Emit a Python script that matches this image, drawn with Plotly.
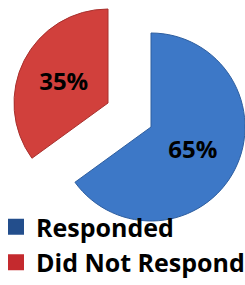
import plotly.graph_objects as go

labels = ["Responded", "Did Not Respond"]
values = [65, 35]
slice_colors = ["#3D78C7", "#D1403C"]
edge_colors = ["#2E5E9F", "#A8302D"]
legend_colors = ["#234E8C", "#C42A2E"]

W, H = 245, 285
font_family = "Open Sans"
transparent = "rgba(0,0,0,0)"

fig = go.Figure()

# Slice in place (Responded)
fig.add_trace(go.Pie(
    labels=labels, values=values, sort=False, direction="clockwise", rotation=0,
    marker=dict(colors=[slice_colors[0], transparent],
                line=dict(color=[edge_colors[0], transparent], width=1)),
    texttemplate=["%{percent:.0%}", ""], textposition="inside",
    insidetextorientation="horizontal",
    textfont=dict(family=font_family, size=24, color="black", weight="bold"),
    domain=dict(x=[57 / W, 1], y=[64 / H, 252 / H]),
    showlegend=False, hoverinfo="skip",
))

# Exploded slice (Did Not Respond)
fig.add_trace(go.Pie(
    labels=labels, values=values, sort=False, direction="clockwise", rotation=0,
    marker=dict(colors=[transparent, slice_colors[1]],
                line=dict(color=[transparent, edge_colors[1]], width=1)),
    texttemplate=["", "%{percent:.0%}"], textposition="inside",
    insidetextorientation="horizontal",
    textfont=dict(family=font_family, size=24, color="black", weight="bold"),
    domain=dict(x=[14 / W, 202 / W], y=[88 / H, 276 / H]),
    showlegend=False, hoverinfo="skip",
))

# Legend entries
for lab, col in zip(labels, legend_colors):
    fig.add_trace(go.Scatter(
        x=[None], y=[None], mode="markers", name=lab,
        marker=dict(symbol="square", size=16, color=col),
        hoverinfo="skip",
    ))

fig.update_layout(
    width=W, height=H,
    margin=dict(l=0, r=0, t=0, b=0),
    paper_bgcolor="white", plot_bgcolor="white",
    xaxis=dict(visible=False), yaxis=dict(visible=False),
    legend=dict(x=0, y=0, xanchor="left", yanchor="bottom", indentation=-4,
                bgcolor="rgba(0,0,0,0)", tracegroupgap=0, itemsizing="trace",
                font=dict(family=font_family, size=25, color="black", weight="bold")),
)

fig.write_html("out.html", config={"displayModeBar": False},
               post_script="document.body.style.margin='0';")
